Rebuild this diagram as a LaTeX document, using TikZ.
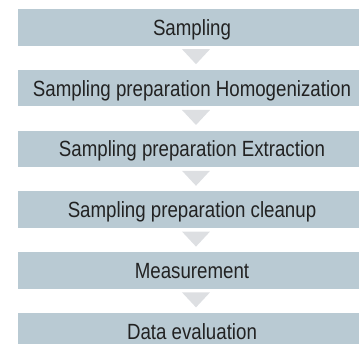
\documentclass[tikz,border=0pt]{standalone}
\usepackage{fontspec}
\setmainfont{Liberation Sans}[FakeStretch=0.85]
\usetikzlibrary{calc}
\definecolor{stepfill}{RGB}{185,202,211}
\definecolor{arrowfill}{RGB}{221,223,226}
\definecolor{steptext}{RGB}{34,34,34}
\begin{document}
\begin{tikzpicture}[x=1pt,y=1pt,
  stepbox/.style={rectangle, fill=stepfill, draw=none, inner sep=0pt,
    minimum width=341pt, minimum height=36.7pt},
  steplabel/.style={inner sep=0pt, text height=15.8pt, text depth=0pt,
    text=steptext, font=\fontsize{22}{26}\selectfont},
  flowtri/.style={fill=arrowfill, draw=none}
]
\useasboundingbox (0,0) rectangle (360,344);
\clip (0,0) rectangle (360,344);

% process steps, top to bottom
\foreach \i/\txt in {1/Sampling,
                     2/Sampling preparation Homogenization,
                     3/Sampling preparation Extraction,
                     4/Sampling preparation cleanup,
                     5/Measurement,
                     6/Data evaluation}{
  \node[stepbox] (b\i) at (188.5, {316.65-60.8*(\i-1)}) {};
  \node[steplabel] (t\i) at ([xshift=3.5pt]b\i.center) {\txt};
}

% downward triangles linking consecutive steps
\foreach \i in {1,...,5}{
  \fill[flowtri] ($(b\i.south)+(-6.5,-3.3)$) -- ($(b\i.south)+(21.5,-3.3)$)
    -- ($(b\i.south)+(7.5,-18.3)$) -- cycle;
}
\end{tikzpicture}
\end{document}
